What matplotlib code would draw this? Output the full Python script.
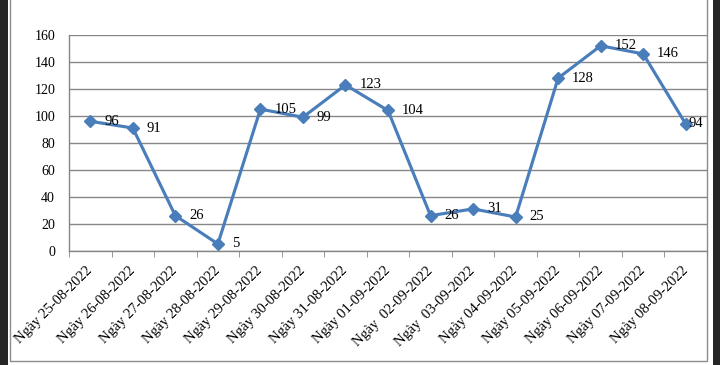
import matplotlib.pyplot as plt
from matplotlib.patches import Rectangle

plt.rcParams['font.family'] = ['Liberation Serif', 'DejaVu Serif']

days = ["Ngày 25-08-2022", "Ngày 26-08-2022", "Ngày 27-08-2022", "Ngày 28-08-2022",
        "Ngày 29-08-2022", "Ngày 30-08-2022", "Ngày 31-08-2022", "Ngày 01-09-2022",
        "Ngày  02-09-2022", "Ngày  03-09-2022", "Ngày 04-09-2022", "Ngày 05-09-2022",
        "Ngày 06-09-2022", "Ngày 07-09-2022", "Ngày 08-09-2022"]
cases = [96, 91, 26, 5, 105, 99, 123, 104, 26, 31, 25, 128, 152, 146, 94]
y_ticks = [0, 20, 40, 60, 80, 100, 120, 140, 160]

line_color = "#4A7EBB"
grid_color = "#868686"

fig = plt.figure(figsize=(7.2, 3.65), dpi=100, facecolor="#262626")

# white chart panel with thin grey frame
fig.patches.append(Rectangle((7.5 / 720, 0), 705 / 720, 1, transform=fig.transFigure,
                             facecolor="white", edgecolor="none", zorder=-2))
fig.patches.append(Rectangle((9.5 / 720, 4 / 365), 697.5 / 720, 1.1, transform=fig.transFigure,
                             facecolor="none", edgecolor="#8c8c8c", lw=1.0, zorder=-1))

ax = fig.add_axes([69 / 720, 1 - 250.7 / 365, 638 / 720, 215.7 / 365])
ax.set_zorder(2)
ax.set_facecolor("none")

x = list(range(len(days)))
ax.plot(x, cases, color=line_color, lw=2.25, marker="D", markersize=6.5,
        markerfacecolor=line_color, markeredgecolor=line_color, zorder=3, clip_on=False)

for i, v in enumerate(cases):
    dx = 2 if i == len(cases) - 1 else 10
    ax.annotate(str(v), (i, v), xytext=(dx, 0), textcoords="offset points",
                ha="left", va="center", fontsize=10.5, color="black", zorder=4)

ax.set_xlim(-0.5, len(days) - 0.5)
ax.set_ylim(0, 160)
ax.set_yticks(y_ticks)
ax.tick_params(axis="y", length=0, pad=10, labelsize=10)
ax.yaxis.grid(True, color=grid_color, lw=1)
ax.set_axisbelow(True)

ax.set_xticks(x)
ax.set_xticklabels(days, rotation=45, ha="right", va="center", rotation_mode="anchor",
                   fontsize=10.5)
ax.tick_params(axis="x", which="major", length=0, pad=13)
ax.set_xticks([i - 0.5 for i in range(len(days) + 1)], minor=True)
ax.tick_params(axis="x", which="minor", length=4, color=grid_color, direction="out")

for s in ["top", "right"]:
    ax.spines[s].set_visible(False)
for s in ["left", "bottom"]:
    ax.spines[s].set_color(grid_color)
    ax.spines[s].set_linewidth(1)

fig.savefig("out.png", dpi=100, facecolor=fig.get_facecolor())
